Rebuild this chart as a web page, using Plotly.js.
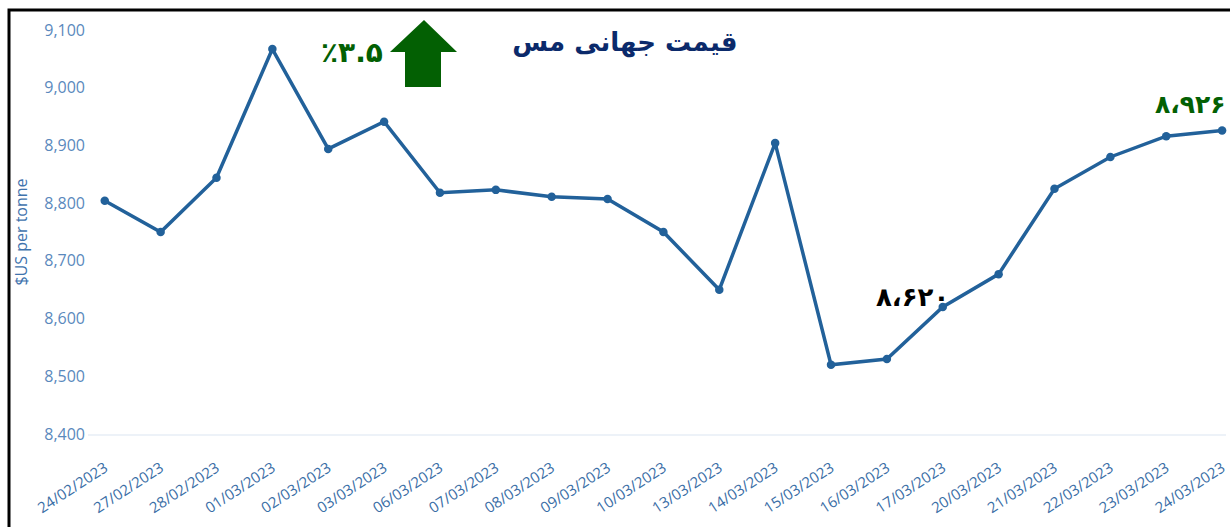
<!DOCTYPE html>
<html>
<head>
<meta charset="utf-8">
<script src="https://cdn.plot.ly/plotly-3.0.1.min.js"></script>
<style>html,body{margin:0;padding:0;background:#fff;}#chart{width:1230px;height:527px;}</style>
</head>
<body>
<div id="chart"></div>
<script>
const dates = ["24/02/2023","27/02/2023","28/02/2023","01/03/2023","02/03/2023","03/03/2023","06/03/2023","07/03/2023","08/03/2023","09/03/2023","10/03/2023","13/03/2023","14/03/2023","15/03/2023","16/03/2023","17/03/2023","20/03/2023","21/03/2023","22/03/2023","23/03/2023","24/03/2023"];
const prices = [8804, 8750, 8844, 9067, 8894, 8941, 8818, 8823, 8811, 8807, 8750, 8650, 8904, 8520, 8530, 8620, 8677, 8825, 8880, 8916, 8926];
const yTicks = [8400, 8500, 8600, 8700, 8800, 8900, 9000, 9100];
const yTickText = ["8,400","8,500","8,600","8,700","8,800","8,900","9,000","9,100"];
const titleText = "قیمت جهانی مس";
const changeText = "٪۳.۵";
const lowText = "۸،۶۲۰";
const lastText = "۸،۹۲۶";

const W = 1230, H = 527, L = 88, R = 4, T = 30, B = 93;
const pw = W - L - R, ph = H - T - B;
const px = x => (x - L) / pw;
const py = y => (H - B - y) / ph;

const arrowPts = [[424,20],[390,52],[405,52],[405,87],[441,87],[441,52],[457,52]];
const arrowPath = "M " + arrowPts.map(p => px(p[0]) + "," + py(p[1])).join(" L ") + " Z";

const trace = {
  x: dates, y: prices, type: "scatter", mode: "lines+markers",
  line: {color: "#22619a", width: 3.5},
  marker: {color: "#22619a", size: 8.5},
  hoverinfo: "x+y", cliponaxis: false
};

const layout = {
  width: W, height: H,
  margin: {l: L, r: R, t: T, b: B},
  paper_bgcolor: "#ffffff", plot_bgcolor: "#ffffff",
  showlegend: false,
  title: {text: titleText, x: 625 / W, xref: "container", xanchor: "center", y: 1 - 42 / H, yref: "container", yanchor: "middle",
    font: {family: "DejaVu Sans", size: 26, color: "#0b2a6b", weight: "bold"}},
  xaxis: {type: "category", range: [-0.3, 20.07], tickangle: -33, showgrid: false, zeroline: false,
    showline: true, linecolor: "#edf2f8", linewidth: 1.5, ticks: "", ticklabelstandoff: 18,
    tickfont: {family: "Open Sans", size: 15, color: "#3a6ea6"}, automargin: false},
  yaxis: {range: [8400, 9100], tickvals: yTicks, ticktext: yTickText, showgrid: false, zeroline: false,
    showline: false, ticks: "", ticklabelstandoff: 2,
    tickfont: {family: "Open Sans", size: 16, color: "#5a89bd"},
    title: {text: "$US per tonne", standoff: 12, font: {family: "Open Sans", size: 16, color: "#3f73ad"}},
    automargin: false},
  shapes: [
    {type: "path", xref: "paper", yref: "paper", path: arrowPath, fillcolor: "#036003", line: {width: 0}},
    {type: "rect", xref: "paper", yref: "paper", x0: px(9), y0: py(10), x1: px(1260), y1: py(560), line: {color: "#000", width: 3}, fillcolor: "rgba(0,0,0,0)", layer: "above"}
  ],
  annotations: [
    {xref: "paper", yref: "paper", x: px(352), y: py(52), text: changeText, showarrow: false, xanchor: "center", yanchor: "middle",
      font: {family: "DejaVu Sans", size: 28, color: "#036003", weight: "bold"}},
    {xref: "paper", yref: "paper", x: px(912), y: py(297), text: lowText, showarrow: false, xanchor: "center", yanchor: "middle",
      font: {family: "DejaVu Sans", size: 26, color: "#000000", weight: "bold"}},
    {xref: "paper", yref: "paper", x: px(1190), y: py(104), text: lastText, showarrow: false, xanchor: "center", yanchor: "middle",
      font: {family: "DejaVu Sans", size: 25, color: "#036003", weight: "bold"}}
  ]
};

Plotly.newPlot("chart", [trace], layout, {displayModeBar: false, staticPlot: true});
</script>
</body>
</html>
